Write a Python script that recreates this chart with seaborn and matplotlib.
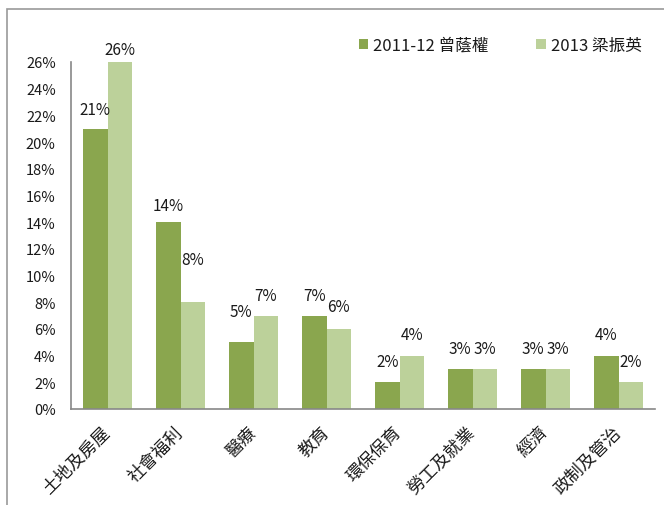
import matplotlib
matplotlib.use("Agg")
import matplotlib.pyplot as plt
import matplotlib.transforms as mtransforms
from matplotlib.patches import Rectangle
import pandas as pd
import seaborn as sns

categories = ['土地及房屋', '社會福利', '醫療', '教育', '環保保育', '勞工及就業', '經濟', '政制及管治']
series_names = ['2011-12 曾蔭權', '2013 梁振英']
values_2011 = [21, 14, 5, 7, 2, 3, 3, 4]
values_2013 = [26, 8, 7, 6, 4, 3, 3, 2]
colors = ['#8aa64e', '#bcd19a']
# gap (px) between bar top and its value label, as placed in the original
label_gap = [[13, 10, 24, 14, 14, 14, 14, 15],
             [6, 36, 14, 16, 15, 14, 14, 14]]

sns.set_style('white')
plt.rcParams['font.family'] = ['Noto Sans CJK TC', 'DejaVu Sans']

df = pd.DataFrame({
    'cat': categories * 2,
    'val': values_2011 + values_2013,
    'series': [series_names[0]] * len(categories) + [series_names[1]] * len(categories),
})

fig = plt.figure(figsize=(6.64, 5.06), dpi=100)
ax = fig.add_axes([71 / 664, 96 / 506, 584 / 664, 347 / 506])

sns.barplot(data=df, x='cat', y='val', hue='series', palette=colors,
            width=0.67, saturation=1, ax=ax, errorbar=None, gap=0, linewidth=0)

for cont, gaps in zip(ax.containers, label_gap):
    for bar, g in zip(cont, gaps):
        ax.annotate(f'{int(bar.get_height())}%',
                    (bar.get_x() + bar.get_width() / 2, bar.get_height()),
                    xytext=(0, (g - 2) * 0.72), textcoords='offset points',
                    ha='center', va='bottom', fontsize=11, color='#1a1a1a',
                    annotation_clip=False)

ax.set_ylim(0, 26)
ax.set_xlim(-0.5, len(categories) - 0.5)
ax.set_yticks(range(0, 27, 2))
ax.set_yticklabels([f'{t}%' for t in range(0, 27, 2)], fontsize=10.5, color='#1a1a1a')
ax.set_xlabel('')
ax.set_ylabel('')
ax.tick_params(axis='y', length=0, pad=11)
ax.tick_params(axis='x', length=0, pad=10)
offset = mtransforms.ScaledTranslation(6 / 100, 0, fig.dpi_scale_trans)
for lbl in ax.get_xticklabels():
    lbl.set_rotation(45)
    lbl.set_ha('right')
    lbl.set_va('top')
    lbl.set_fontsize(12.5)
    lbl.set_color('#1a1a1a')
    lbl.set_transform(lbl.get_transform() + offset)

for s in ['top', 'right']:
    ax.spines[s].set_visible(False)
for s in ['left', 'bottom']:
    ax.spines[s].set_color('#888888')
    ax.spines[s].set_linewidth(1.2)

ax.legend(ncol=2, loc='center', bbox_to_anchor=(500 / 664, 1 - 46 / 506),
          bbox_transform=fig.transFigure, frameon=False, fontsize=12,
          handlelength=0.55, handleheight=0.55, columnspacing=2.9, handletextpad=0.3,
          labelcolor='#1a1a1a')

fig.patches.append(Rectangle((7 / 664, -0.05), 1.1, 1.05 - 10 / 506,
                             transform=fig.transFigure, fill=False,
                             edgecolor='#999999', linewidth=1.2))

fig.savefig('out.png', dpi=100)
